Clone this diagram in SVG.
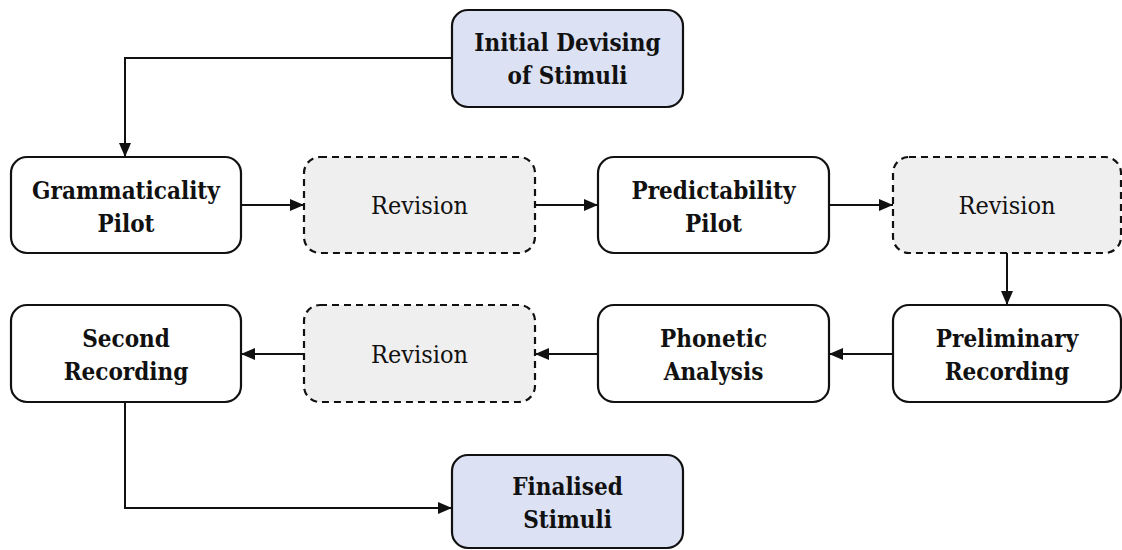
<svg xmlns="http://www.w3.org/2000/svg" width="1122" height="550" viewBox="0 0 1122 550">
  <style>
    .box { stroke: #111; stroke-width: 2.2; }
    .main { fill: #ffffff; }
    .key { fill: #dce2f4; }
    .rev { fill: #efefef; stroke-dasharray: 7 5; }
    .lbl { font-family: "DejaVu Serif Condensed", "DejaVu Serif", serif; font-stretch: condensed; font-size: 24px; fill: #111; text-anchor: middle; }
    .b { font-weight: bold; }
    .r { font-size: 25px; }
    .edge { fill: none; stroke: #111; stroke-width: 2; }
  </style>
  <defs>
    <marker id="arrow" viewBox="0 0 14 12" refX="14" refY="6" markerWidth="14" markerHeight="12" markerUnits="userSpaceOnUse" orient="auto">
      <path d="M0,0 L14,6 L0,12 Z" fill="#111"/>
    </marker>
  </defs>

  <g id="connectors">
    <path class="edge" d="M452,58 H125 V157" marker-end="url(#arrow)"/>
    <path class="edge" d="M241,205 H304" marker-end="url(#arrow)"/>
    <path class="edge" d="M535,205 H598" marker-end="url(#arrow)"/>
    <path class="edge" d="M829,205 H893" marker-end="url(#arrow)"/>
    <path class="edge" d="M1007,253 V305" marker-end="url(#arrow)"/>
    <path class="edge" d="M893,354 H829" marker-end="url(#arrow)"/>
    <path class="edge" d="M598,354 H535" marker-end="url(#arrow)"/>
    <path class="edge" d="M304,354 H241" marker-end="url(#arrow)"/>
    <path class="edge" d="M125,402 V508 H452" marker-end="url(#arrow)"/>
  </g>

  <g id="initial">
    <rect class="box key" x="452" y="10" width="231" height="97" rx="16"/>
    <text class="lbl b" x="567.5" y="51">Initial Devising</text>
    <text class="lbl b" x="567.5" y="84">of Stimuli</text>
  </g>

  <g id="grammaticality">
    <rect class="box main" x="11" y="157" width="230" height="96" rx="16"/>
    <text class="lbl b" x="126" y="199">Grammaticality</text>
    <text class="lbl b" x="126" y="232">Pilot</text>
  </g>

  <g id="revision1">
    <rect class="box rev" x="304" y="157" width="231" height="96" rx="16"/>
    <text class="lbl r" x="419.5" y="214">Revision</text>
  </g>

  <g id="predictability">
    <rect class="box main" x="598" y="157" width="231" height="96" rx="16"/>
    <text class="lbl b" x="713.5" y="199">Predictability</text>
    <text class="lbl b" x="713.5" y="232">Pilot</text>
  </g>

  <g id="revision2">
    <rect class="box rev" x="893" y="157" width="228" height="96" rx="16"/>
    <text class="lbl r" x="1007" y="214">Revision</text>
  </g>

  <g id="preliminary">
    <rect class="box main" x="893" y="305" width="228" height="97" rx="16"/>
    <text class="lbl b" x="1007" y="347">Preliminary</text>
    <text class="lbl b" x="1007" y="380">Recording</text>
  </g>

  <g id="phonetic">
    <rect class="box main" x="598" y="305" width="231" height="97" rx="16"/>
    <text class="lbl b" x="713.5" y="347">Phonetic</text>
    <text class="lbl b" x="713.5" y="380">Analysis</text>
  </g>

  <g id="revision3">
    <rect class="box rev" x="304" y="305" width="231" height="97" rx="16"/>
    <text class="lbl r" x="419.5" y="363">Revision</text>
  </g>

  <g id="second">
    <rect class="box main" x="11" y="305" width="230" height="97" rx="16"/>
    <text class="lbl b" x="126" y="347">Second</text>
    <text class="lbl b" x="126" y="380">Recording</text>
  </g>

  <g id="finalised">
    <rect class="box key" x="452" y="455" width="231" height="93" rx="16"/>
    <text class="lbl b" x="567.5" y="495">Finalised</text>
    <text class="lbl b" x="567.5" y="528">Stimuli</text>
  </g>
</svg>
